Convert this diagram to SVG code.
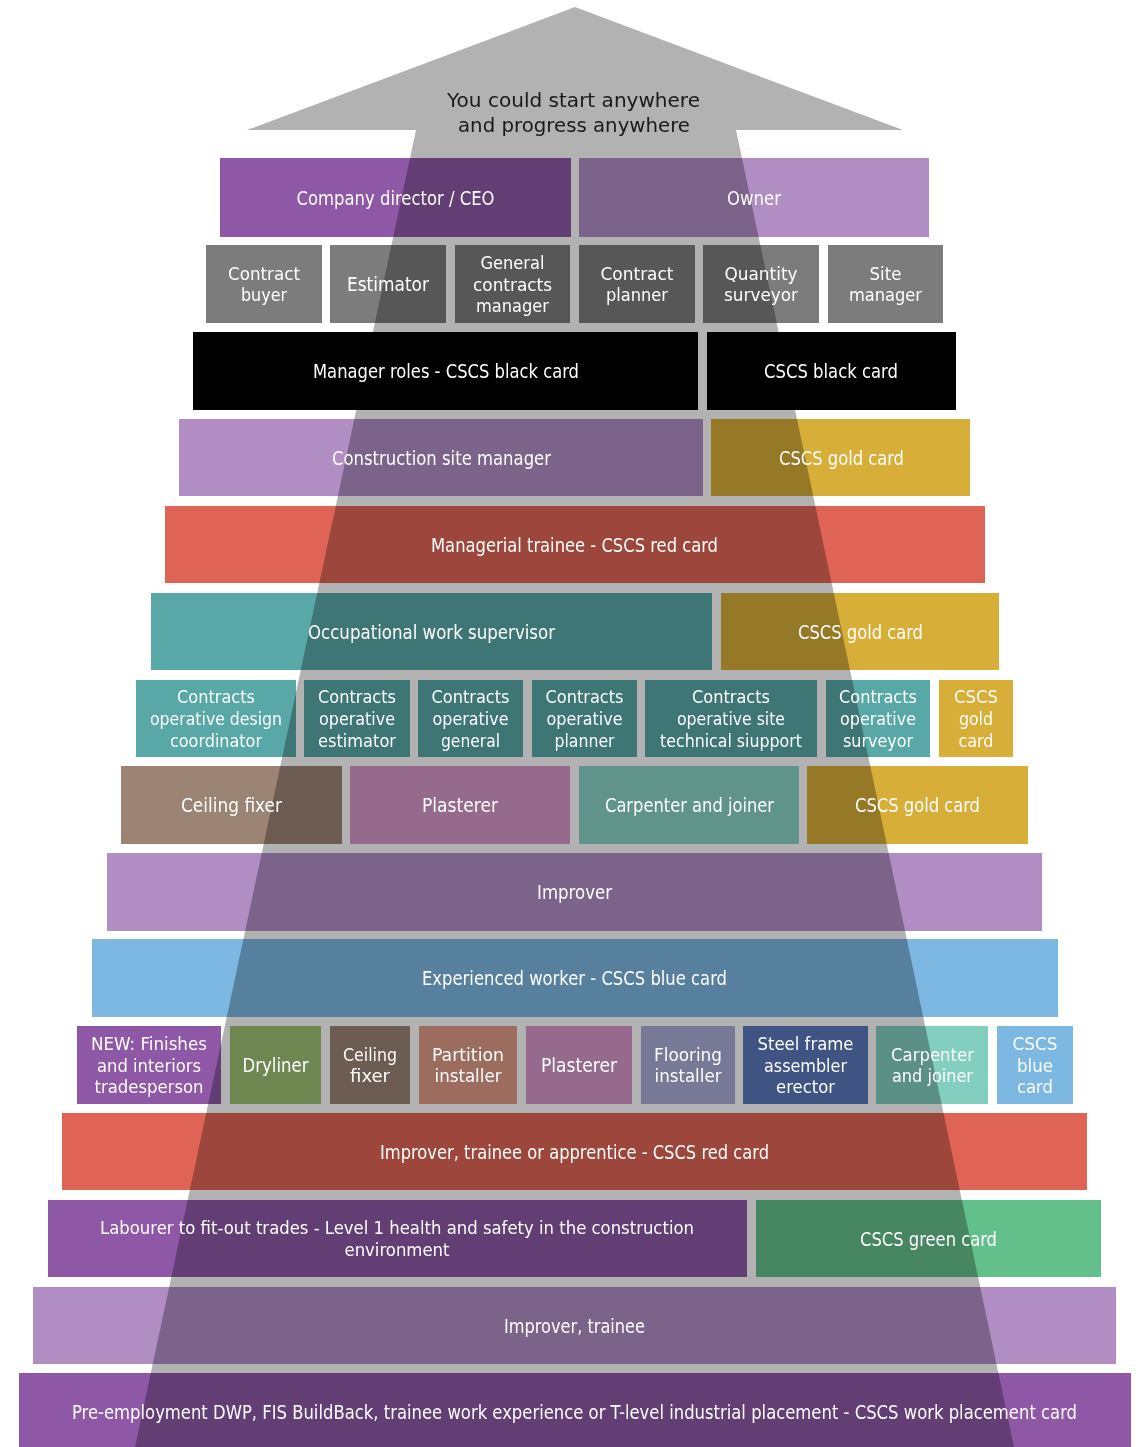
<svg xmlns="http://www.w3.org/2000/svg" width="1139" height="1447" viewBox="0 0 1139 1447">
<defs>
<style>
.b{mix-blend-mode:multiply}
.t{font-family:"DejaVu Sans Condensed","Liberation Sans Narrow","Roboto",sans-serif;font-stretch:condensed;font-size:20px;fill:#fff;text-anchor:middle}
.m{font-size:18.5px}
.s{font-size:19px}
.title{font-family:"DejaVu Sans","Liberation Sans",sans-serif;font-size:20px;fill:#1a1a1a;text-anchor:middle}
.pu{fill:#8e58a6}.lp{fill:#b08ec4}.gr{fill:#7c7c7c}.bk{fill:#000}.go{fill:#d7ae38}.rd{fill:#e06455}.te{fill:#58a8a8}.bl{fill:#7db8e3}
</style>
</defs>
<rect width="1139" height="1447" fill="#fff"/>
<g id="progress-arrow">
<polygon points="575,7 903,130 736,130 1014,1447 135,1447 416,130 247,130" fill="#b2b2b2"/>
</g>
<g id="nodes">
<g id="n-ceo"><rect class="b pu" x="220" y="158" width="351" height="79"/><text class="t" x="395.5" y="204.5" textLength="198" lengthAdjust="spacingAndGlyphs">Company director / CEO</text></g>
<g id="n-owner"><rect class="b lp" x="579" y="158" width="350" height="79"/><text class="t" x="754" y="204.5" textLength="54" lengthAdjust="spacingAndGlyphs">Owner</text></g>

<g id="n-contract-buyer"><rect class="b gr" x="206" y="245" width="116" height="78"/><text class="t m" x="264" y="279.7"><tspan x="264" textLength="72" lengthAdjust="spacingAndGlyphs">Contract</tspan><tspan x="264" dy="21.6" textLength="46" lengthAdjust="spacingAndGlyphs">buyer</tspan></text></g>
<g id="n-estimator"><rect class="b gr" x="330" y="245" width="116" height="78"/><text class="t" x="388" y="291" textLength="82" lengthAdjust="spacingAndGlyphs">Estimator</text></g>
<g id="n-gcm"><rect class="b gr" x="455" y="245" width="115" height="78"/><text class="t m" x="512.5" y="268.9"><tspan x="512.5" textLength="64" lengthAdjust="spacingAndGlyphs">General</tspan><tspan x="512.5" dy="21.6" textLength="79" lengthAdjust="spacingAndGlyphs">contracts</tspan><tspan x="512.5" dy="21.6" textLength="73" lengthAdjust="spacingAndGlyphs">manager</tspan></text></g>
<g id="n-contract-planner"><rect class="b gr" x="579" y="245" width="116" height="78"/><text class="t m" x="637" y="279.7"><tspan x="637" textLength="73" lengthAdjust="spacingAndGlyphs">Contract</tspan><tspan x="637" dy="21.6" textLength="62" lengthAdjust="spacingAndGlyphs">planner</tspan></text></g>
<g id="n-qs"><rect class="b gr" x="703" y="245" width="116" height="78"/><text class="t m" x="761" y="279.7"><tspan x="761" textLength="73" lengthAdjust="spacingAndGlyphs">Quantity</tspan><tspan x="761" dy="21.6" textLength="74" lengthAdjust="spacingAndGlyphs">surveyor</tspan></text></g>
<g id="n-site-manager"><rect class="b gr" x="828" y="245" width="115" height="78"/><text class="t m" x="885.5" y="279.7"><tspan x="885.5" textLength="32" lengthAdjust="spacingAndGlyphs">Site</tspan><tspan x="885.5" dy="21.6" textLength="73" lengthAdjust="spacingAndGlyphs">manager</tspan></text></g>

<g id="n-manager-roles"><rect class="b bk" x="193" y="332" width="505" height="78"/><text class="t" x="446" y="378" textLength="266" lengthAdjust="spacingAndGlyphs">Manager roles - CSCS black card</text></g>
<g id="n-black-card"><rect class="b bk" x="707" y="332" width="249" height="78"/><text class="t" x="831" y="378" textLength="134" lengthAdjust="spacingAndGlyphs">CSCS black card</text></g>

<g id="n-csm"><rect class="b lp" x="179" y="419" width="524" height="77"/><text class="t" x="441.5" y="465" textLength="219" lengthAdjust="spacingAndGlyphs">Construction site manager</text></g>
<g id="n-gold-1"><rect class="b go" x="711" y="419" width="259" height="77"/><text class="t" x="841.5" y="465" textLength="125" lengthAdjust="spacingAndGlyphs">CSCS gold card</text></g>

<g id="n-managerial-trainee"><rect class="b rd" x="165" y="506" width="820" height="77"/><text class="t" x="574.5" y="552" textLength="287" lengthAdjust="spacingAndGlyphs">Managerial trainee - CSCS red card</text></g>

<g id="n-ows"><rect class="b te" x="151" y="593" width="561" height="77"/><text class="t" x="431.5" y="639" textLength="247" lengthAdjust="spacingAndGlyphs">Occupational work supervisor</text></g>
<g id="n-gold-2"><rect class="b go" x="721" y="593" width="278" height="77"/><text class="t" x="860.5" y="639" textLength="125" lengthAdjust="spacingAndGlyphs">CSCS gold card</text></g>

<g id="n-co-design"><rect class="b te" x="136" y="680" width="160" height="77"/><text class="t m" x="216" y="703.4"><tspan x="216" textLength="78" lengthAdjust="spacingAndGlyphs">Contracts</tspan><tspan x="216" dy="21.6" textLength="132" lengthAdjust="spacingAndGlyphs">operative design</tspan><tspan x="216" dy="21.6" textLength="92" lengthAdjust="spacingAndGlyphs">coordinator</tspan></text></g>
<g id="n-co-estimator"><rect class="b te" x="304" y="680" width="106" height="77"/><text class="t m" x="357" y="703.4"><tspan x="357" textLength="78" lengthAdjust="spacingAndGlyphs">Contracts</tspan><tspan x="357" dy="21.6" textLength="76" lengthAdjust="spacingAndGlyphs">operative</tspan><tspan x="357" dy="21.6" textLength="78" lengthAdjust="spacingAndGlyphs">estimator</tspan></text></g>
<g id="n-co-general"><rect class="b te" x="418" y="680" width="105" height="77"/><text class="t m" x="470.5" y="703.4"><tspan x="470.5" textLength="78" lengthAdjust="spacingAndGlyphs">Contracts</tspan><tspan x="470.5" dy="21.6" textLength="76" lengthAdjust="spacingAndGlyphs">operative</tspan><tspan x="470.5" dy="21.6" textLength="59" lengthAdjust="spacingAndGlyphs">general</tspan></text></g>
<g id="n-co-planner"><rect class="b te" x="532" y="680" width="105" height="77"/><text class="t m" x="584.5" y="703.4"><tspan x="584.5" textLength="78" lengthAdjust="spacingAndGlyphs">Contracts</tspan><tspan x="584.5" dy="21.6" textLength="76" lengthAdjust="spacingAndGlyphs">operative</tspan><tspan x="584.5" dy="21.6" textLength="60" lengthAdjust="spacingAndGlyphs">planner</tspan></text></g>
<g id="n-co-site"><rect class="b te" x="645" y="680" width="172" height="77"/><text class="t m" x="731" y="703.4"><tspan x="731" textLength="78" lengthAdjust="spacingAndGlyphs">Contracts</tspan><tspan x="731" dy="21.6" textLength="108" lengthAdjust="spacingAndGlyphs">operative site</tspan><tspan x="731" dy="21.6" textLength="142" lengthAdjust="spacingAndGlyphs">technical siupport</tspan></text></g>
<g id="n-co-surveyor"><rect class="b te" x="826" y="680" width="104" height="77"/><text class="t m" x="878" y="703.4"><tspan x="878" textLength="78" lengthAdjust="spacingAndGlyphs">Contracts</tspan><tspan x="878" dy="21.6" textLength="76" lengthAdjust="spacingAndGlyphs">operative</tspan><tspan x="878" dy="21.6" textLength="70" lengthAdjust="spacingAndGlyphs">surveyor</tspan></text></g>
<g id="n-gold-3"><rect class="b go" x="939" y="680" width="74" height="77"/><text class="t m" x="976" y="703.4"><tspan x="976" textLength="44" lengthAdjust="spacingAndGlyphs">CSCS</tspan><tspan x="976" dy="21.6" textLength="34" lengthAdjust="spacingAndGlyphs">gold</tspan><tspan x="976" dy="21.6" textLength="35" lengthAdjust="spacingAndGlyphs">card</tspan></text></g>

<g id="n-ceiling-fixer-1"><rect class="b" fill="#9b8474" x="121" y="766" width="221" height="78"/><text class="t" x="231.5" y="812" textLength="101" lengthAdjust="spacingAndGlyphs">Ceiling fixer</text></g>
<g id="n-plasterer-1"><rect class="b" fill="#d598c8" x="350" y="766" width="220" height="78"/><text class="t" x="460" y="812" textLength="76" lengthAdjust="spacingAndGlyphs">Plasterer</text></g>
<g id="n-carpenter-1"><rect class="b" fill="#8ad2c5" x="579" y="766" width="220" height="78"/><text class="t" x="689.5" y="812" textLength="169" lengthAdjust="spacingAndGlyphs">Carpenter and joiner</text></g>
<g id="n-gold-4"><rect class="b go" x="807" y="766" width="221" height="78"/><text class="t" x="917.5" y="812" textLength="125" lengthAdjust="spacingAndGlyphs">CSCS gold card</text></g>

<g id="n-improver"><rect class="b lp" x="107" y="853" width="935" height="78"/><text class="t" x="574.5" y="899" textLength="75" lengthAdjust="spacingAndGlyphs">Improver</text></g>
<g id="n-experienced"><rect class="b bl" x="92" y="939" width="966" height="78"/><text class="t" x="574.5" y="985" textLength="305" lengthAdjust="spacingAndGlyphs">Experienced worker - CSCS blue card</text></g>

<g id="n-new-finishes"><rect class="b pu" x="77" y="1026" width="144" height="78"/><text class="t m" x="149" y="1049.9"><tspan x="149" textLength="116" lengthAdjust="spacingAndGlyphs">NEW: Finishes</tspan><tspan x="149" dy="21.6" textLength="104" lengthAdjust="spacingAndGlyphs">and interiors</tspan><tspan x="149" dy="21.6" textLength="109" lengthAdjust="spacingAndGlyphs">tradesperson</tspan></text></g>
<g id="n-dryliner"><rect class="b" fill="#9fc274" x="230" y="1026" width="91" height="78"/><text class="t" x="275.5" y="1072" textLength="66" lengthAdjust="spacingAndGlyphs">Dryliner</text></g>
<g id="n-ceiling-fixer-2"><rect class="b" fill="#9b8474" x="330" y="1026" width="80" height="78"/><text class="t m" x="370" y="1060.7"><tspan x="370" textLength="54" lengthAdjust="spacingAndGlyphs">Ceiling</tspan><tspan x="370" dy="21.6" textLength="40" lengthAdjust="spacingAndGlyphs">fixer</tspan></text></g>
<g id="n-partition"><rect class="b" fill="#df9b87" x="419" y="1026" width="98" height="78"/><text class="t m" x="468" y="1060.7"><tspan x="468" textLength="72" lengthAdjust="spacingAndGlyphs">Partition</tspan><tspan x="468" dy="21.6" textLength="67" lengthAdjust="spacingAndGlyphs">installer</tspan></text></g>
<g id="n-plasterer-2"><rect class="b" fill="#d598c8" x="526" y="1026" width="106" height="78"/><text class="t" x="579" y="1072" textLength="76" lengthAdjust="spacingAndGlyphs">Plasterer</text></g>
<g id="n-flooring"><rect class="b" fill="#aaaed9" x="641" y="1026" width="94" height="78"/><text class="t m" x="688" y="1060.7"><tspan x="688" textLength="68" lengthAdjust="spacingAndGlyphs">Flooring</tspan><tspan x="688" dy="21.6" textLength="67" lengthAdjust="spacingAndGlyphs">installer</tspan></text></g>
<g id="n-steel-frame"><rect class="b" fill="#5a78bc" x="743" y="1026" width="125" height="78"/><text class="t m" x="805.5" y="1049.9"><tspan x="805.5" textLength="96" lengthAdjust="spacingAndGlyphs">Steel frame</tspan><tspan x="805.5" dy="21.6" textLength="83" lengthAdjust="spacingAndGlyphs">assembler</tspan><tspan x="805.5" dy="21.6" textLength="59" lengthAdjust="spacingAndGlyphs">erector</tspan></text></g>
<g id="n-carpenter-2"><rect class="b" fill="#82cfc0" x="876" y="1026" width="112" height="78"/><text class="t m" x="932.5" y="1060.7"><tspan x="932.5" textLength="83" lengthAdjust="spacingAndGlyphs">Carpenter</tspan><tspan x="932.5" dy="21.6" textLength="81" lengthAdjust="spacingAndGlyphs">and joiner</tspan></text></g>
<g id="n-blue-card"><rect class="b bl" x="997" y="1026" width="76" height="78"/><text class="t m" x="1035" y="1049.9"><tspan x="1035" textLength="45" lengthAdjust="spacingAndGlyphs">CSCS</tspan><tspan x="1035" dy="21.6" textLength="36" lengthAdjust="spacingAndGlyphs">blue</tspan><tspan x="1035" dy="21.6" textLength="36" lengthAdjust="spacingAndGlyphs">card</tspan></text></g>

<g id="n-itoa"><rect class="b rd" x="62" y="1113" width="1025" height="77"/><text class="t" x="574.5" y="1159" textLength="389" lengthAdjust="spacingAndGlyphs">Improver, trainee or apprentice - CSCS red card</text></g>

<g id="n-labourer"><rect class="b pu" x="48" y="1200" width="699" height="77"/><text class="t m" x="397" y="1234.2"><tspan x="397" textLength="594" lengthAdjust="spacingAndGlyphs">Labourer to fit-out trades - Level 1 health and safety in the construction</tspan><tspan x="397" dy="21.6" textLength="105" lengthAdjust="spacingAndGlyphs">environment</tspan></text></g>
<g id="n-green-card"><rect class="b" fill="#64c08a" x="756" y="1200" width="345" height="77"/><text class="t" x="928.5" y="1246" textLength="137" lengthAdjust="spacingAndGlyphs">CSCS green card</text></g>

<g id="n-improver-trainee"><rect class="b lp" x="33" y="1287" width="1083" height="77"/><text class="t" x="574.5" y="1333" textLength="141" lengthAdjust="spacingAndGlyphs">Improver, trainee</text></g>

<g id="n-pre-employment"><rect class="b pu" x="19" y="1373" width="1112" height="74"/><text class="t s" x="574.5" y="1418.5" textLength="1005" lengthAdjust="spacingAndGlyphs">Pre-employment DWP, FIS BuildBack, trainee work experience or T-level industrial placement - CSCS work placement card</text></g>
</g>
<g id="title">
<text class="title" x="573.5" y="107" textLength="253" lengthAdjust="spacingAndGlyphs">You could start anywhere</text>
<text class="title" x="574" y="131.5" textLength="232" lengthAdjust="spacingAndGlyphs">and progress anywhere</text>
</g>
</svg>
